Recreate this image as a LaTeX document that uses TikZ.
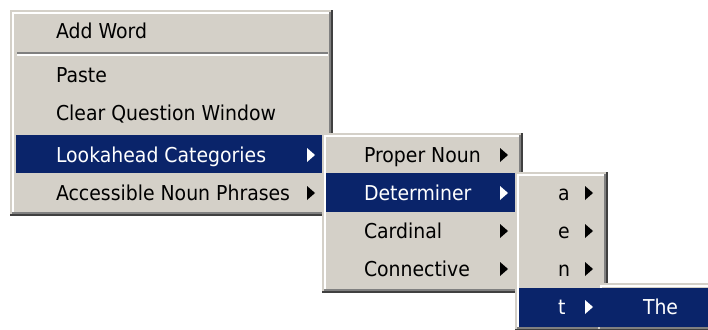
\documentclass[tikz,border=0pt]{standalone}
\usepackage{fontspec}
\setmainfont{DejaVu Sans}[FakeStretch=0.92]
\usetikzlibrary{positioning}

\definecolor{menugrey}{HTML}{D4D0C8}
\definecolor{menublue}{HTML}{0A246A}
\definecolor{menushade}{HTML}{808080}
\definecolor{menudark}{HTML}{404040}

% raised panel: {x1}{y1}{x2}{y2}
\newcommand{\menupanel}[4]{
  \fill[menugrey] (#1,#2) rectangle (#3,#4);
  \draw[menudark] (#1,#4-1) -- (#3-1,#4-1) -- (#3-1,#2);
  \draw[menushade] (#1+2,#4-3) -- (#3-3,#4-3) -- (#3-3,#2+2);
  \draw[white] (#1+3,#4-4) -- (#1+3,#2+3) -- (#3-4,#2+3);
}
% submenu arrow: {x}{y centre}{colour}
\newcommand{\menuarrow}[3]{\fill[#3] (#1,#2-7) -- ++(8,7) -- ++(-8,7) -- cycle;}

\begin{document}
\begin{tikzpicture}[x=1pt, y=-1pt, line width=2pt,
    item/.style = {anchor=base west, inner sep=0pt, font=\fontsize{20.5}{24}\selectfont},
    chosen/.style = {item, text=white}]
  \useasboundingbox (0,0) rectangle (708,329);
  \clip (0,0) rectangle (708,329);
  \fill[white] (0,0) rectangle (708,329);

  % first menu
  \menupanel{10}{10}{333}{216}
  \draw[menushade] (17,53) -- (328,53);
  \draw[white] (17,55) -- (328,55);
  \fill[menublue] (16,135) rectangle (327,173);
  \node[item] (addword) at (55,39) {Add Word};
  \node[item] (paste) at (55,82) {Paste};
  \node[item] (clear) at (55,120) {Clear Question Window};
  \node[chosen] (lookahead) at (55,162) {Lookahead Categories};
  \node[item] (accessible) at (55,200) {Accessible Noun Phrases};
  \menuarrow{307}{155}{white}
  \menuarrow{307}{193}{black}

  % categories
  \menupanel{322}{133}{523}{293}
  \fill[menublue] (326,173) rectangle (519,212);
  \node[item] (proper) at (363,162) {Proper Noun};
  \node[chosen] (determiner) at (363,200) {Determiner};
  \node[item] (cardinal) at (363,238) {Cardinal};
  \node[item] (connective) at (363,276) {Connective};
  \menuarrow{500}{155}{black}
  \menuarrow{500}{193}{white}
  \menuarrow{500}{231}{black}
  \menuarrow{500}{269}{black}

  % first letters
  \menupanel{515}{172}{608}{331}
  \fill[menublue] (519,288) rectangle (604,327);
  \node[item] (a) at (557,200) {a};
  \node[item] (e) at (557,238) {e};
  \node[item] (n) at (557,276) {n};
  \node[chosen] (t) at (557,314) {t};
  \menuarrow{585}{193}{black}
  \menuarrow{585}{231}{black}
  \menuarrow{585}{269}{black}
  \menuarrow{585}{307}{white}

  % words
  \menupanel{598}{283}{720}{331}
  \fill[menublue] (597,288) rectangle (716,327);
  \node[chosen] (the) at (642,314) {The};
\end{tikzpicture}
\end{document}
